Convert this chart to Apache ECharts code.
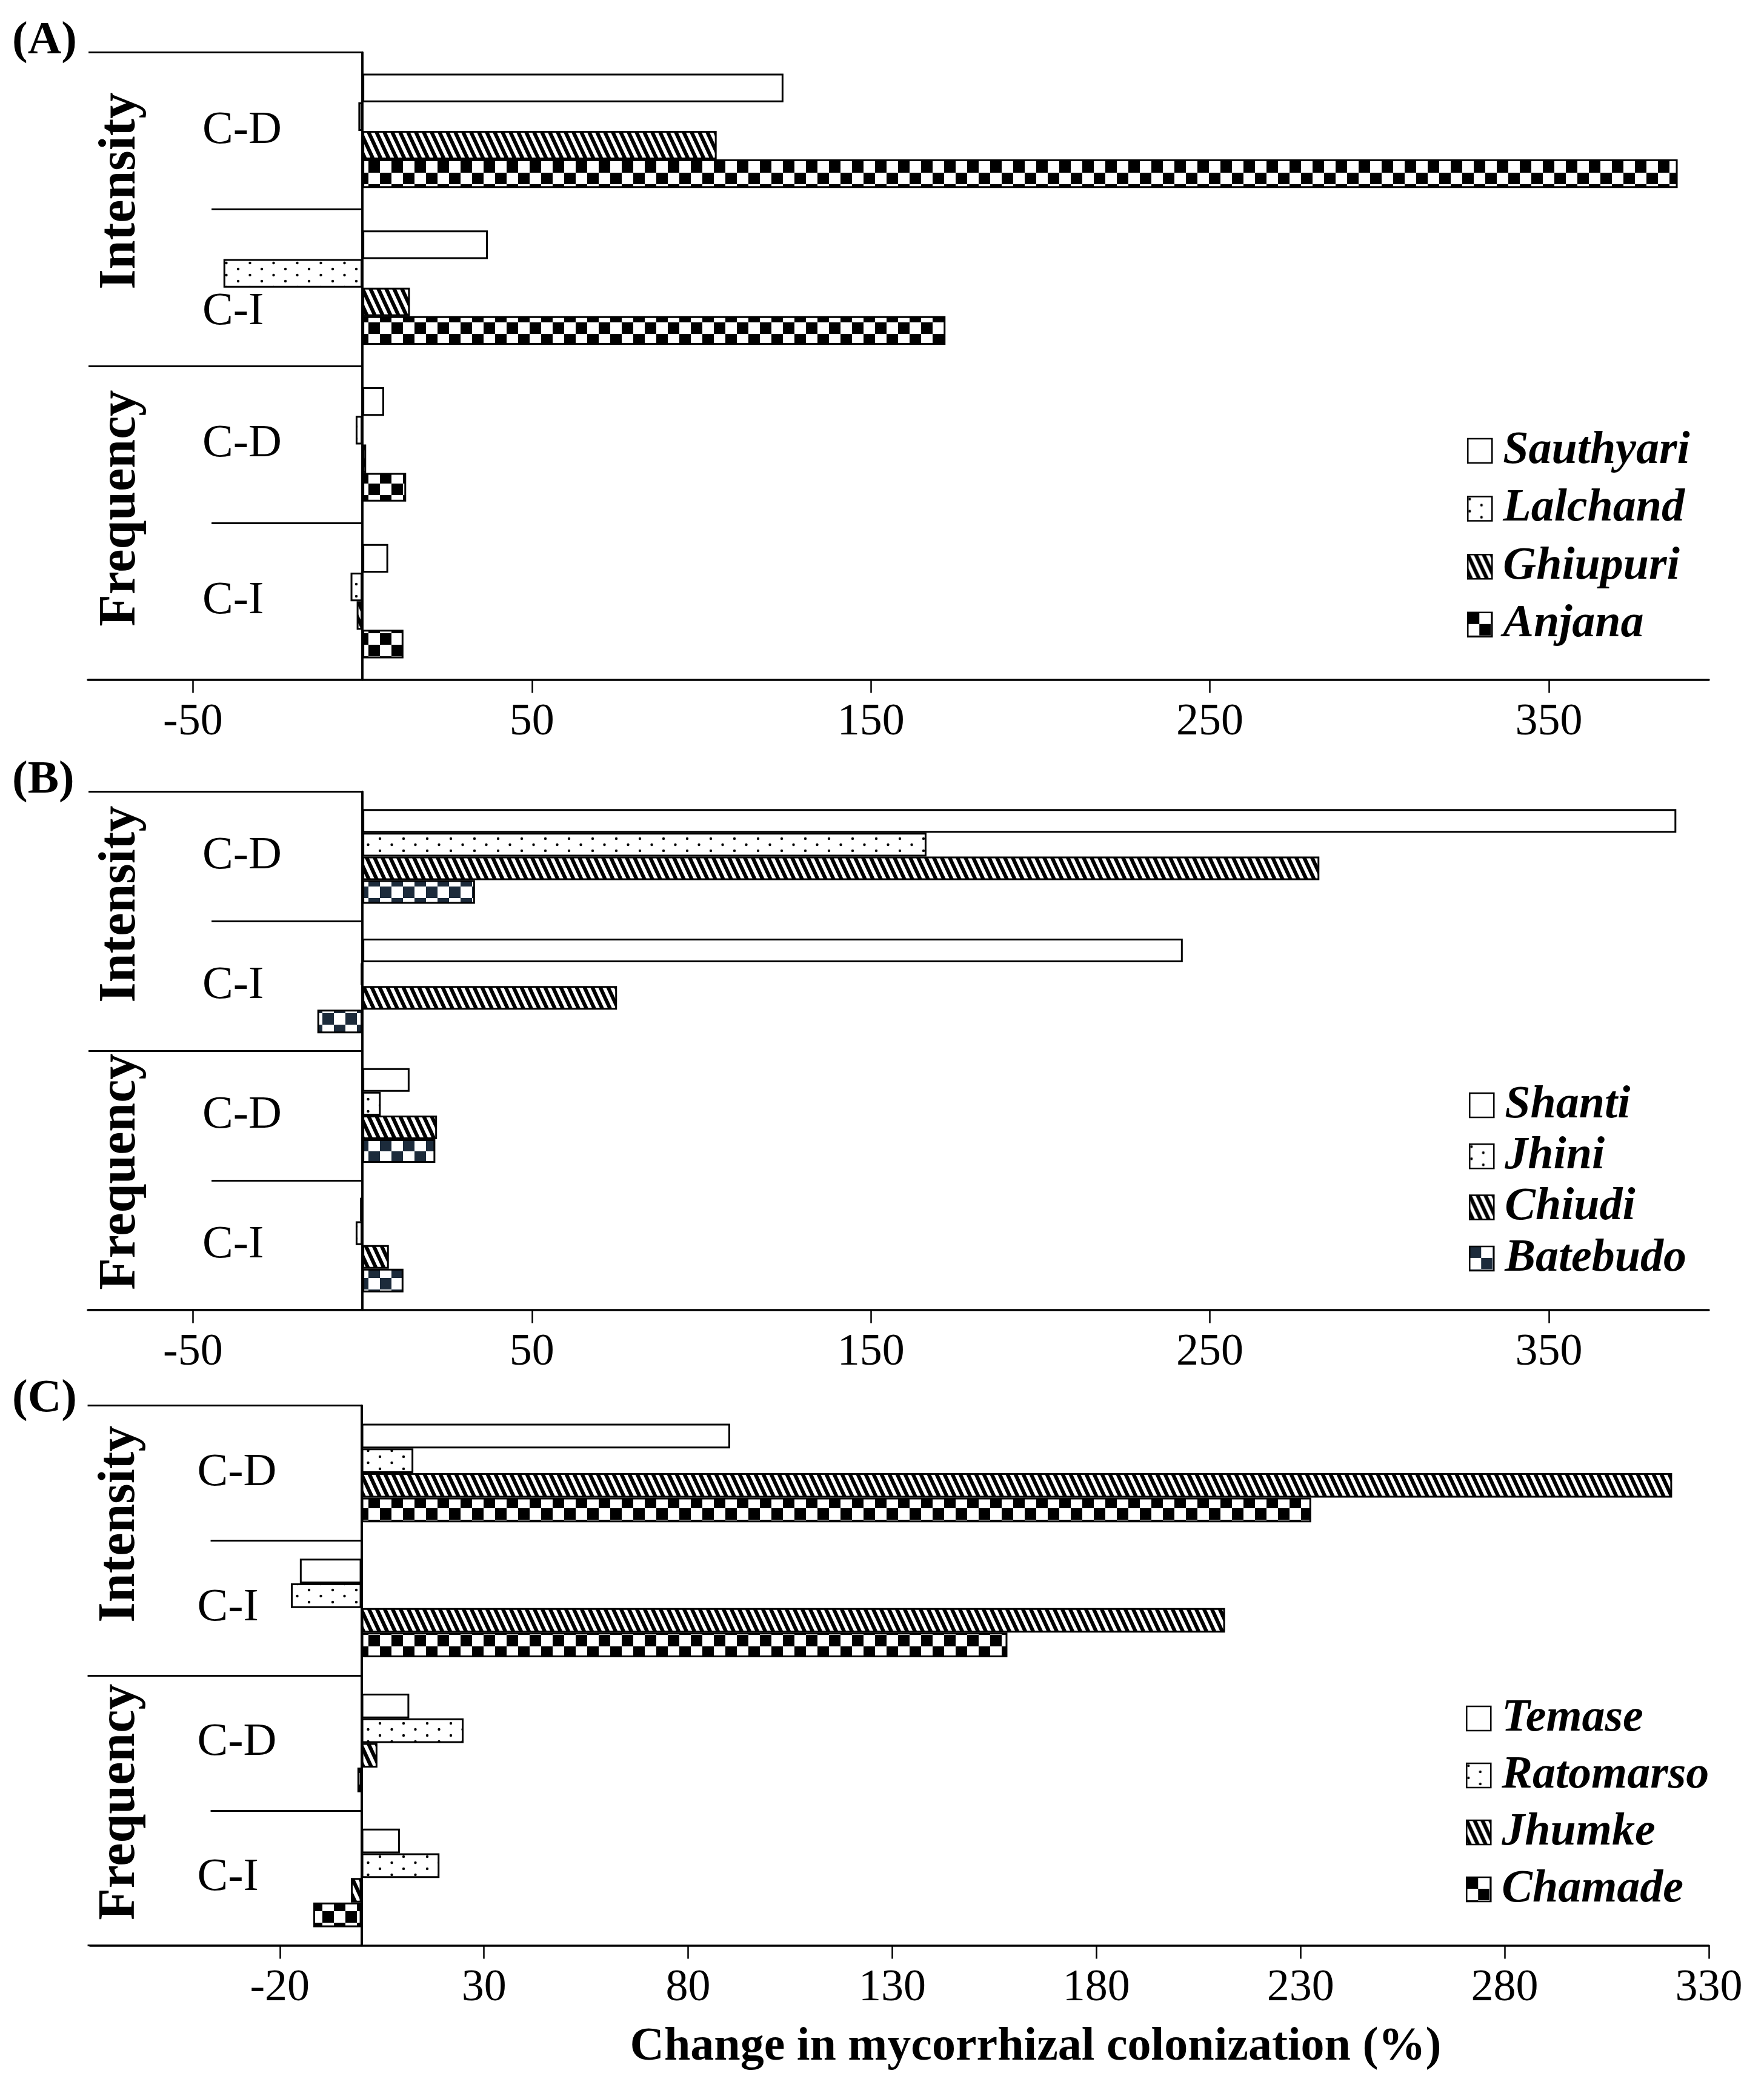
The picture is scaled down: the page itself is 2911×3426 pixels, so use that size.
<!DOCTYPE html>
<html><head><meta charset="utf-8">
<script src="https://cdn.jsdelivr.net/npm/echarts@6/dist/echarts.min.js"></script>
<style>html,body{margin:0;padding:0;background:#fff}#c{width:2911px;height:3426px}</style>
</head><body><div id="c"></div><script>
// ---- data ----
const categories = ['Intensity C-D', 'Intensity C-I', 'Frequency C-D', 'Frequency C-I'];
const groups = ['Intensity', 'Frequency'];
const namesA = ['Sauthyari', 'Lalchand', 'Ghiupuri', 'Anjana'];
const namesB = ['Shanti', 'Jhini', 'Chiudi', 'Batebudo'];
const namesC = ['Temase', 'Ratomarso', 'Jhumke', 'Chamade'];
const sauthyari = [124.2, 37, 6.4, 7.6];
const lalchand = [-1.2, -41, -2, -3.5];
const ghiupuri = [104.5, 14, 1.1, -1.7];
const anjana = [388, 172, 12.9, 12.1];
const shanti = [387.6, 242, 13.9, -0.7];
const jhini = [166.4, -0.5, 5.4, -2];
const chiudi = [282.3, 75.1, 22, 7.8];
const batebudo = [33.2, -13.3, 21.5, 12.1];
const temase = [90.3, -15.1, 11.7, 9.4];
const ratomarso = [12.7, -17.3, 25, 19.1];
const jhumke = [321, 211.5, 3.9, -2.6];
const chamade = [232.6, 158.2, -1, -11.8];
const ticksAB = [-50, 50, 150, 250, 350];
const ticksC = [-20, 30, 80, 130, 180, 230, 280, 330];
const xTitle = 'Change in mycorrhizal colonization (%)';

// ---- patterns ----
function tile(w, h, draw) {
  const c = document.createElement('canvas'); c.width = w; c.height = h;
  const g = c.getContext('2d'); g.fillStyle = '#fff'; g.fillRect(0, 0, w, h); draw(g);
  return { image: c, repeat: 'repeat' };
}
const pWhite = '#ffffff';
const pDots = tile(39, 20, g => {
  g.fillStyle = '#000';
  [[3, 4], [22.5, 14]].forEach(p => { g.beginPath(); g.arc(p[0], p[1], 2.2, 0, Math.PI * 2); g.fill(); });
});
const pStripe = tile(13, 28, g => {
  g.strokeStyle = '#000'; g.lineWidth = 6.2;
  for (let k = -2; k <= 2; k++) { g.beginPath(); g.moveTo(k * 13 - 13, -28); g.lineTo(k * 13 + 26, 56); g.stroke(); }
});
function checker(col) {
  return tile(38, 38, g => { g.fillStyle = col; g.fillRect(0, 0, 19, 19); g.fillRect(19, 19, 19, 19); });
}
const pCheckBlack = checker('#000');
const pCheckNavy = checker('#1c2b3b');

const SERIF = 'Liberation Serif';
const W = 2911;
const panels = [
  { names: namesA, data: [sauthyari, lalchand, ghiupuri, anjana], fills: [pWhite, pDots, pStripe, pCheckBlack],
    grid: { left: 145, right: 91, top: 86.5, height: 1035 }, min: -81, max: 397.2, ticks: ticksAB,
    lowLabel: [false, true, false, false], catMargin: 264, grpShift: [30, 24],
    legend: { left: 2421, top: 706, gap: 19.6 } },
  { names: namesB, data: [shanti, jhini, chiudi, batebudo], fills: [pWhite, pDots, pStripe, pCheckNavy],
    grid: { left: 145, right: 91, top: 1306.5, height: 855 }, min: -81, max: 397.2, ticks: ticksAB,
    lowLabel: [false, false, false, false], catMargin: 264, grpShift: [28, 14],
    legend: { left: 2424, top: 1786, gap: 8.3 } },
  { names: namesC, data: [temase, ratomarso, jhumke, chamade], fills: [pWhite, pDots, pStripe, pCheckBlack],
    grid: { left: 148.5, right: 91, top: 2319.5, height: 891 }, min: -66.5, max: 330, ticks: ticksC,
    lowLabel: [false, false, false, false], catMargin: 271, grpShift: [27, 14],
    legend: { left: 2419, top: 2798, gap: 18 } }
];

const option = { animation: false, backgroundColor: '#fff', grid: [], xAxis: [], yAxis: [], series: [], legend: [], graphic: [] };
panels.forEach((p, i) => {
  option.grid.push(Object.assign({ outerBoundsMode: 'none', containLabel: false }, p.grid));
  const gw = W - p.grid.left - p.grid.right;
  const zeroOffset = -(-p.min / (p.max - p.min)) * gw; // puts the category axes at value 0
  option.xAxis.push({
    type: 'value', gridIndex: i, min: p.min, max: p.max, position: 'bottom',
    axisLine: { show: true, onZero: false, lineStyle: { color: '#000', width: 3.5 } },
    axisTick: { show: true, length: 22, customValues: p.ticks, lineStyle: { color: '#000', width: 2.5 } },
    axisLabel: { customValues: p.ticks, margin: 34, fontSize: 74, fontFamily: SERIF, color: '#000', lineHeight: 74 },
    splitLine: { show: false }
  });
  option.yAxis.push({
    type: 'category', gridIndex: i, inverse: true, position: 'left', offset: zeroOffset,
    data: categories,
    axisLine: { show: true, onZero: false, lineStyle: { color: '#000', width: 3.5 } },
    axisTick: { show: true, length: 249, lineStyle: { color: '#000', width: 3 } },
    axisLabel: { interval: 0, align: 'left', margin: p.catMargin, fontSize: 76, lineHeight: 80, fontFamily: SERIF, color: '#000',
      formatter: (v, idx) => (p.lowLabel[idx] ? '\n' : '') + v.split(' ')[1] },
    splitLine: { show: false }
  });
  option.yAxis.push({
    type: 'category', gridIndex: i, inverse: true, position: 'left', offset: zeroOffset,
    data: groups.map((g, k) => ({ value: g, textStyle: { padding: [0, 0, 0, 2 * p.grpShift[k]] } })),
    axisLine: { show: true, onZero: false, lineStyle: { color: '#000', width: 3.5 } },
    axisTick: { show: true, length: 452, lineStyle: { color: '#000', width: 3 } },
    axisLabel: { interval: 0, hideOverlap: false, rotate: 90, margin: 355, fontSize: 86, fontWeight: 'bold', fontFamily: SERIF, color: '#000', lineHeight: 86 },
    splitLine: { show: false }
  });
  p.names.forEach((n, s) => {
    option.series.push({
      type: 'bar', name: n, data: p.data[s], xAxisIndex: i, yAxisIndex: 2 * i,
      barGap: '0%', barCategoryGap: '27%',
      itemStyle: { color: p.fills[s], borderColor: '#000', borderWidth: 3 },
      emphasis: { disabled: true }, silent: true
    });
  });
  option.legend.push({
    orient: 'vertical', left: p.legend.left, top: p.legend.top, itemWidth: 40, itemHeight: 40, itemGap: p.legend.gap,
    data: p.names, icon: 'rect', selectedMode: false, padding: 0,
    itemStyle: { borderColor: '#000', borderWidth: 2.5 },
    textStyle: { fontFamily: SERIF, fontStyle: 'italic', fontWeight: 'bold', fontSize: 76, color: '#000', padding: [0, 0, 0, 13] }
  });
});
const panelLabels = [['(A)', 30], ['(B)', 1250], ['(C)', 2271]];
panelLabels.forEach(l => option.graphic.push({ type: 'text', left: 20, top: l[1], style: { text: l[0], font: 'bold 77px "Liberation Serif"', fill: '#000' } }));
option.graphic.push({ type: 'text', x: 1709, y: 3379, style: { text: xTitle, font: 'bold 78px "Liberation Serif"', fill: '#000', align: 'center', verticalAlign: 'middle' } });

const chart = echarts.init(document.getElementById('c'));
chart.setOption(option);
</script></body></html>
